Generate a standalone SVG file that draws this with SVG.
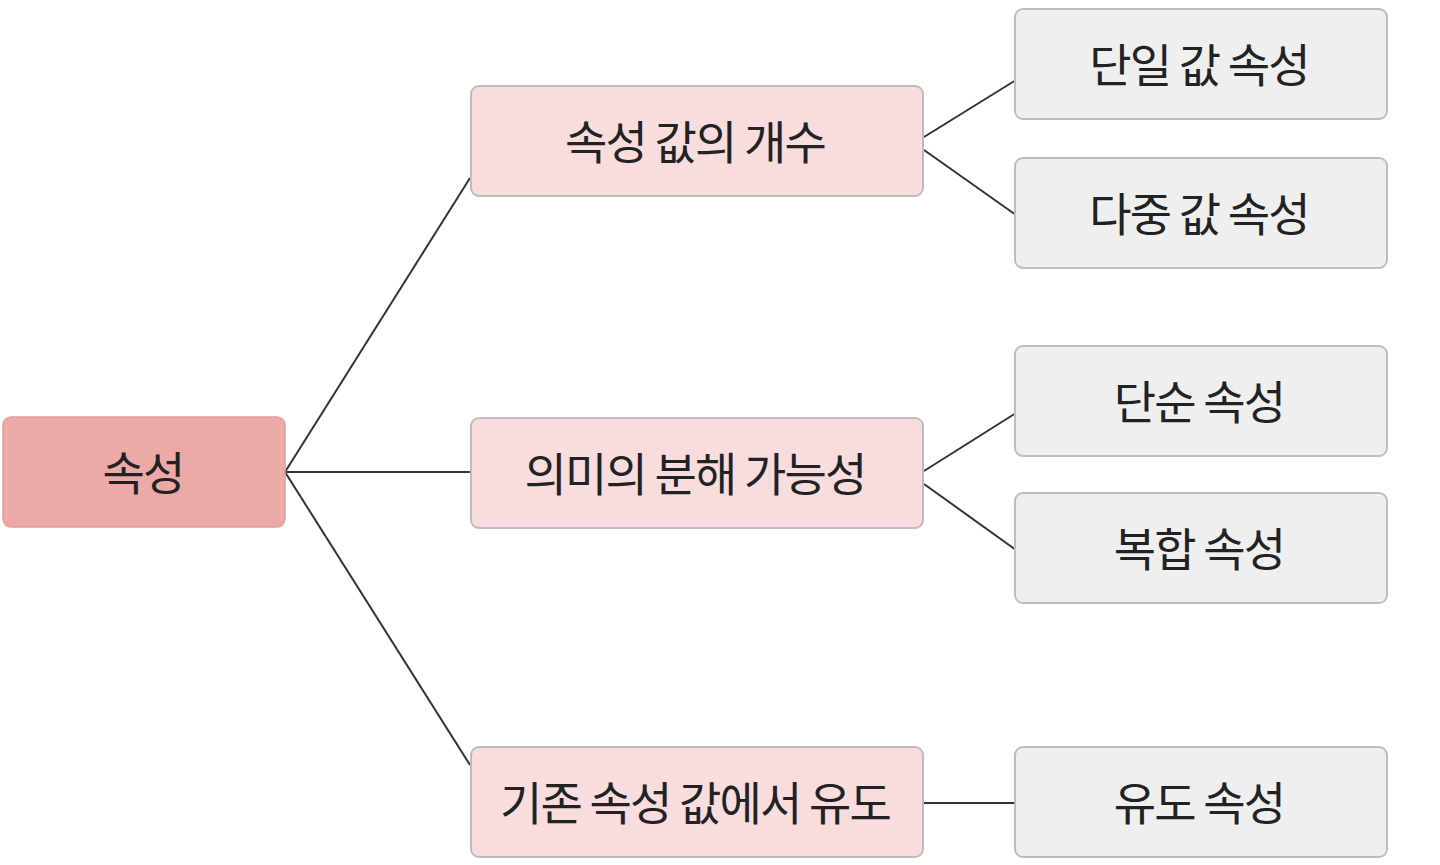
<svg xmlns="http://www.w3.org/2000/svg" width="1440" height="865" viewBox="0 0 1440 865">
<style>
.root{fill:#eca9a8;stroke:#e39d9c;stroke-width:1.5}
.mid{fill:#f9dcdd;stroke:#bdbdbd;stroke-width:2}
.leaf{fill:#efefef;stroke:#bdbdbd;stroke-width:2}
text{font-family:"Noto Sans CJK KR","Noto Sans",sans-serif;font-size:46px;fill:#222;text-anchor:middle;dominant-baseline:central;letter-spacing:-1.8px}
.con{stroke:#333;stroke-width:2;fill:none}
</style>
<rect width="1440" height="865" fill="#fff"/>
<g id="connectors">
<line class="con" x1="285" y1="472" x2="470" y2="178"/>
<line class="con" x1="285" y1="472" x2="471" y2="472"/>
<line class="con" x1="285" y1="472" x2="470" y2="765"/>
<line class="con" x1="924" y1="137" x2="1016" y2="80"/>
<line class="con" x1="924" y1="150" x2="1016" y2="215"/>
<line class="con" x1="924" y1="471" x2="1016" y2="413"/>
<line class="con" x1="924" y1="484" x2="1016" y2="550"/>
<line class="con" x1="924" y1="803" x2="1016" y2="803"/>
</g>
<g id="n-root"><rect class="root" x="3" y="417" width="282" height="110" rx="8"/><text x="143" y="470">속성</text></g>
<g id="n-count"><rect class="mid" x="471" y="86" width="452" height="110" rx="8"/><text x="695" y="139">속성 값의 개수</text></g>
<g id="n-decomp"><rect class="mid" x="471" y="418" width="452" height="110" rx="8"/><text x="695" y="471">의미의 분해 가능성</text></g>
<g id="n-derive"><rect class="mid" x="471" y="747" width="452" height="110" rx="8"/><text x="695" y="800">기존 속성 값에서 유도</text></g>
<g id="n-single"><rect class="leaf" x="1015" y="9" width="372" height="110" rx="8"/><text x="1199" y="62">단일 값 속성</text></g>
<g id="n-multi"><rect class="leaf" x="1015" y="158" width="372" height="110" rx="8"/><text x="1199" y="211">다중 값 속성</text></g>
<g id="n-simple"><rect class="leaf" x="1015" y="346" width="372" height="110" rx="8"/><text x="1199" y="399">단순 속성</text></g>
<g id="n-composite"><rect class="leaf" x="1015" y="493" width="372" height="110" rx="8"/><text x="1199" y="546">복합 속성</text></g>
<g id="n-derived"><rect class="leaf" x="1015" y="747" width="372" height="110" rx="8"/><text x="1199" y="800">유도 속성</text></g>
</svg>
